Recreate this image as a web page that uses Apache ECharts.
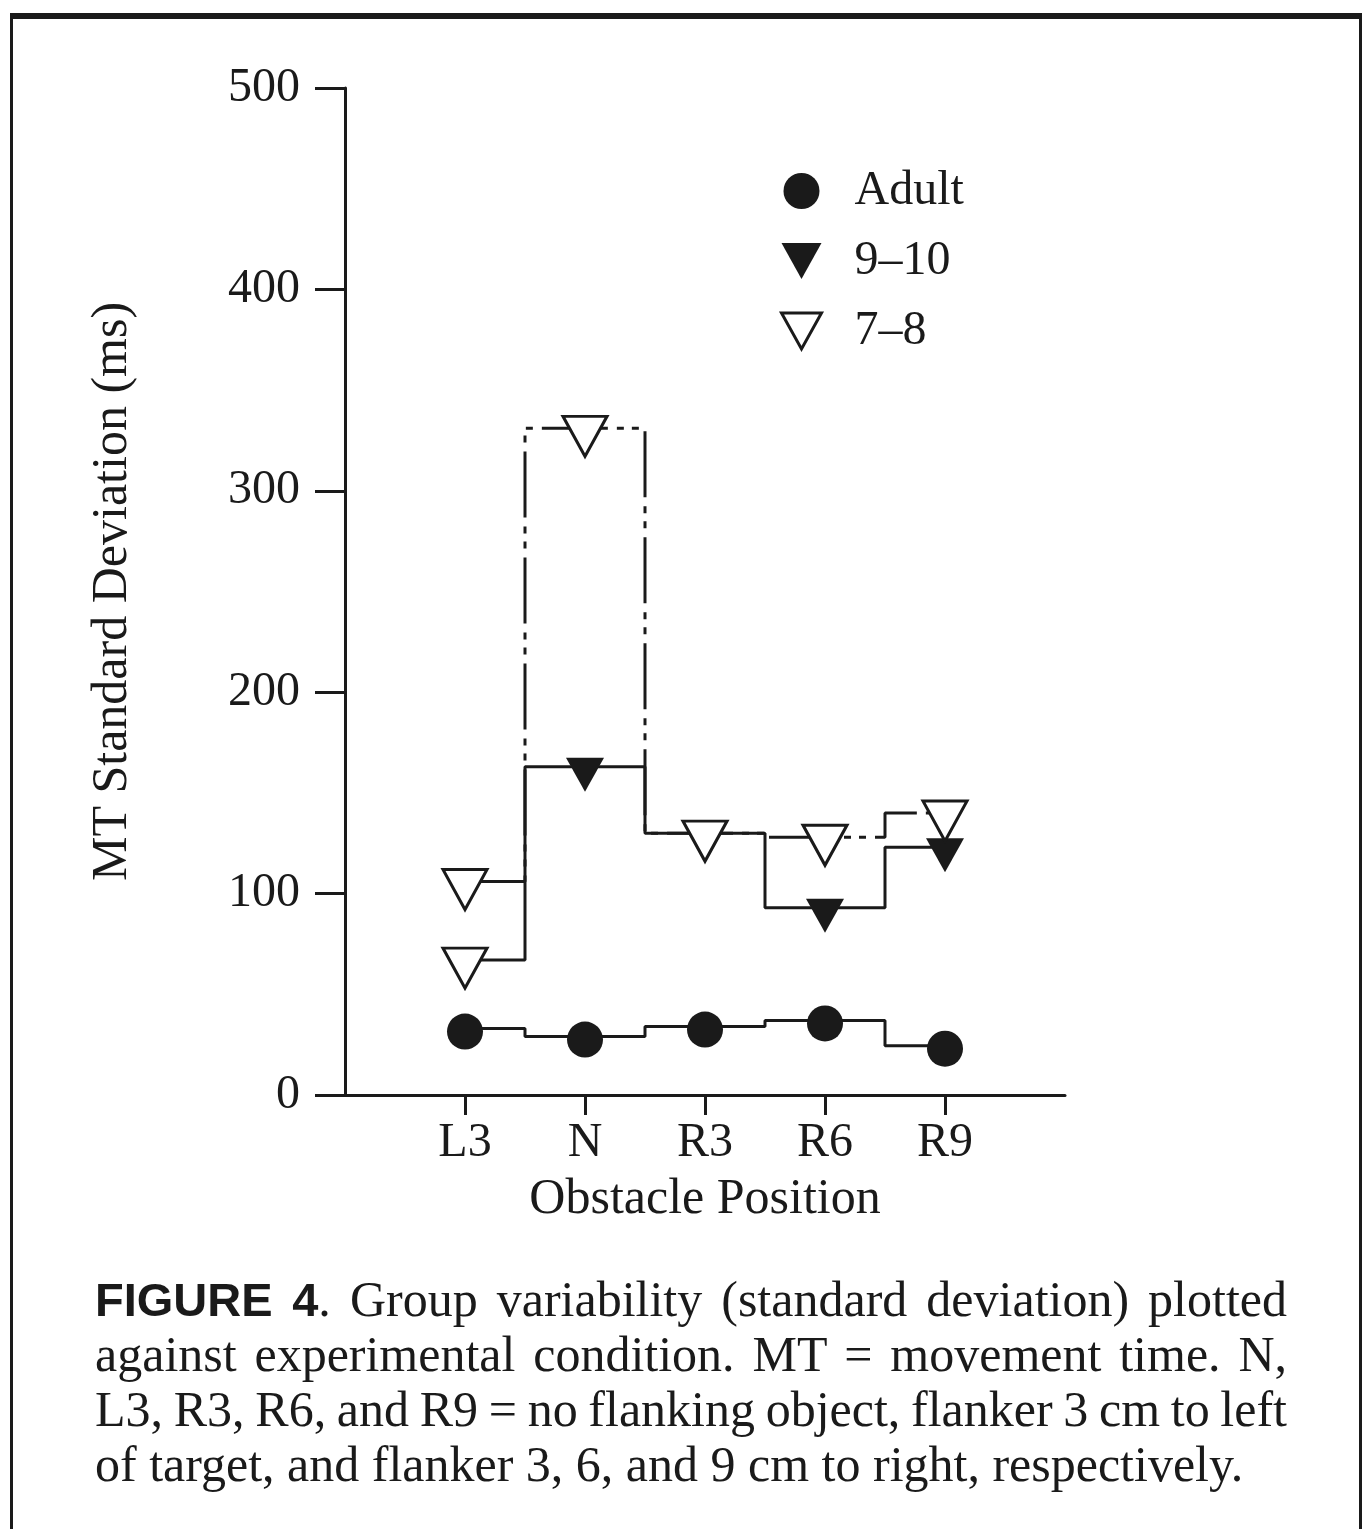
<!DOCTYPE html>
<html>
<head>
<meta charset="utf-8">
<script src="https://cdn.jsdelivr.net/npm/echarts@6/dist/echarts.min.js"></script>
<style>
  html, body { margin: 0; padding: 0; background: #fff; }
  #wrap { position: relative; width: 1367px; height: 1529px; overflow: hidden; }
  #chart { position: absolute; left: 0; top: 0; width: 1367px; height: 1529px; }
  #frame {
    position: absolute; left: 10px; top: 13px; width: 1346px; height: 1600px;
    border: 3px solid #1a1a1a; border-top-width: 6px; pointer-events: none;
  }
  #caption {
    position: absolute; left: 95px; top: 1272px; width: 1192px;
    font-family: "Liberation Serif", "Times New Roman", serif;
    font-size: 50px; line-height: 55px; color: #1a1a1a;
  }
  #caption .j { text-align: justify; text-align-last: justify; white-space: nowrap; word-spacing: -4px; }
  #caption .fig { font-family: "Liberation Sans", Arial, sans-serif; font-weight: bold; font-size: 47px; }
</style>
</head>
<body>
<div id="wrap">
  <div id="chart"></div>
  <div id="frame"></div>
  <div id="caption">
    <div class="j"><span class="fig">FIGURE 4</span>. Group variability (standard deviation) plotted</div>
    <div class="j">against experimental condition. MT = movement time. N,</div>
    <div class="j">L3, R3, R6, and R9 = no flanking object, flanker 3 cm to left</div>
    <div>of target, and flanker 3, 6, and 9 cm to right, respectively.</div>
  </div>
</div>
<script>
// obstacle positions along the x axis
const categories = ["L3", "N", "R3", "R6", "R9"];

// MT standard deviation (ms) per group
const adult = [33, 29, 34, 37, 24.5];
const age910 = [67, 163, 130, 93, 123];
const age78 = [106, 331, 130, 128, 140];

const yTicks = [0, 100, 200, 300, 400, 500];

const ink = "#1a1a1a";
const serif = "Liberation Serif";
const downTri = "path://M0,0L20,0L10,18Z";

const chart = echarts.init(document.getElementById("chart"));

const toPoints = vals => vals.map((v, i) => [i + 1, v]);

// the L3 marker of 9-10 is printed hollow in the figure
const pts910 = toPoints(age910).map((p, i) => i === 0
    ? { value: p, symbolSize: [44, 40], itemStyle: { color: "#fff", borderColor: ink, borderWidth: 3 } }
    : p);

const option = {
    animation: false,
    backgroundColor: "#fff",
    grid: { left: 345, top: 88, width: 720, height: 1007, containLabel: false, outerBoundsMode: "none" },
    legend: {
        orient: "vertical",
        left: 775,
        top: 162,
        itemWidth: 40,
        itemHeight: 36,
        itemGap: 22,
        selectedMode: false,
        textStyle: { fontFamily: serif, fontSize: 48, color: ink, padding: [0, 0, 0, 28] },
        data: [
            { name: "Adult", icon: "circle", itemStyle: { color: ink, borderWidth: 0 } },
            { name: "9–10", icon: downTri, itemStyle: { color: ink, borderWidth: 0 } },
            { name: "7–8", icon: downTri, itemStyle: { color: "#fff", borderColor: ink, borderWidth: 3 } }
        ]
    },
    xAxis: {
        type: "value",
        min: 0,
        max: 6,
        interval: 1,
        name: "Obstacle Position",
        nameLocation: "middle",
        nameGap: 80,
        nameTextStyle: { fontFamily: serif, fontSize: 50, color: ink },
        axisLine: { show: true, lineStyle: { color: ink, width: 3 } },
        axisTick: { show: true, customValues: [1, 2, 3, 4, 5], length: 20, lineStyle: { color: ink, width: 3 } },
        axisLabel: {
            customValues: [1, 2, 3, 4, 5],
            formatter: v => categories[v - 1] || "",
            margin: 24,
            fontFamily: serif,
            fontSize: 48,
            color: ink
        },
        splitLine: { show: false }
    },
    yAxis: {
        type: "value",
        min: yTicks[0],
        max: yTicks[yTicks.length - 1],
        interval: 100,
        name: "MT Standard Deviation (ms)",
        nameLocation: "middle",
        nameGap: 207,
        nameTextStyle: { fontFamily: serif, fontSize: 50, color: ink },
        axisLine: { show: true, lineStyle: { color: ink, width: 3 } },
        axisTick: { show: true, length: 30, lineStyle: { color: ink, width: 3 } },
        axisLabel: { margin: 45, fontFamily: serif, fontSize: 48, color: ink },
        splitLine: { show: false }
    },
    series: [
        {
            name: "Adult",
            type: "line",
            step: "middle",
            data: toPoints(adult),
            symbol: "circle",
            symbolSize: 36,
            symbolOffset: [0, 3],
            lineStyle: { color: ink, width: 3 },
            itemStyle: { color: ink },
            emphasis: { disabled: true },
            z: 3
        },
        {
            name: "9–10",
            type: "line",
            step: "middle",
            data: pts910,
            symbol: downTri,
            symbolSize: [38, 34],
            symbolOffset: [0, 8],
            lineStyle: { color: ink, width: 3 },
            itemStyle: { color: ink },
            emphasis: { disabled: true },
            z: 3
        },
        {
            name: "7–8",
            type: "line",
            step: "middle",
            data: toPoints(age78),
            symbol: downTri,
            symbolSize: [44, 40],
            symbolOffset: [0, 8],
            lineStyle: { color: ink, width: 3, type: [66, 9, 7, 8, 7, 9] },
            itemStyle: { color: "#fff", borderColor: ink, borderWidth: 3 },
            emphasis: { disabled: true },
            z: 4
        }
    ]
};

chart.setOption(option);
</script>
</body>
</html>
